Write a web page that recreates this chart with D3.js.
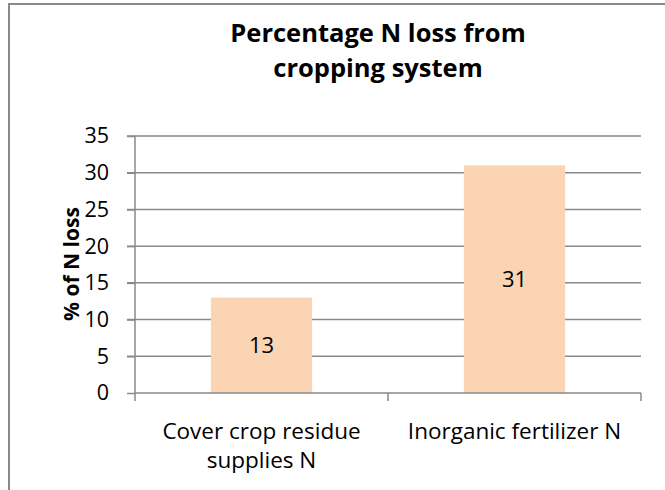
<!DOCTYPE html>
<html><head><meta charset="utf-8">
<script src="https://cdn.jsdelivr.net/npm/d3@7"></script>
<style>html,body{margin:0;padding:0;background:#fff;}svg{display:block;}</style>
</head><body>
<script>
const categories = [["Cover crop residue","supplies N"],["Inorganic fertilizer N"]];
const values = [13, 31];
const yTicks = [0,5,10,15,20,25,30,35];
const titleLines = ["Percentage N loss from","cropping system"];
const yTitle = "% of N loss";

const W = 665, H = 490;
const font = "'Open Sans', Lato, sans-serif";
const svg = d3.select("body").append("svg").attr("width", W).attr("height", H);

svg.append("rect").attr("x", 9).attr("y", 4).attr("width", W + 10).attr("height", H + 10)
  .attr("fill", "#fff").attr("stroke", "#898989").attr("stroke-width", 2);

const pL = 135, pR = 641, pT = 136, pB = 393;
const x = d3.scaleBand().domain(d3.range(values.length)).range([pL, pR]).paddingInner(0.6).paddingOuter(0.3);
const xb = d3.scaleBand().domain(d3.range(values.length)).range([pL, pR]);
const y = d3.scaleLinear().domain([0, 35]).range([pB, pT]);

// gridlines
svg.append("g").selectAll("line").data(yTicks.filter(d => d > 0)).join("line")
  .attr("x1", pL - 8).attr("x2", pR).attr("y1", d => y(d)).attr("y2", d => y(d))
  .attr("stroke", "#8a8a8a").attr("stroke-width", 1.5);

// y axis
const yAxis = svg.append("g").attr("transform", `translate(${pL},0)`)
  .call(d3.axisLeft(y).tickValues(yTicks).tickSize(8).tickPadding(18));
yAxis.select(".domain").attr("stroke", "#8a8a8a").attr("stroke-width", 1.5).attr("d", `M0,${pT}V${pB}`);
yAxis.selectAll(".tick line").attr("stroke", "#8a8a8a").attr("stroke-width", 1.5);
yAxis.selectAll(".tick text").attr("font-family", font).attr("font-size", 21.5).attr("fill", "#000");

// bars
svg.append("g").selectAll("rect").data(values).join("rect")
  .attr("x", (d, i) => x(i)).attr("width", x.bandwidth())
  .attr("y", d => y(d)).attr("height", d => y(0) - y(d))
  .attr("fill", "#FBD4B4");

// x axis
const xAxisG = svg.append("g");
xAxisG.append("line").attr("x1", pL).attr("x2", pR).attr("y1", pB).attr("y2", pB)
  .attr("stroke", "#8a8a8a").attr("stroke-width", 1.5);
const xTickPos = [pL].concat(d3.range(values.length).map(i => xb(i) + xb.bandwidth()));
xAxisG.selectAll("line.t").data(xTickPos).join("line").attr("class", "t")
  .attr("x1", d => d).attr("x2", d => d).attr("y1", pB).attr("y2", pB + 8)
  .attr("stroke", "#8a8a8a").attr("stroke-width", 1.5);

// category labels
categories.forEach((lines, i) => {
  const t = svg.append("text").attr("text-anchor", "middle").attr("font-family", font)
    .attr("font-size", 22.5).attr("fill", "#000");
  lines.forEach((ln, j) => {
    t.append("tspan").attr("x", xb(i) + xb.bandwidth() / 2).attr("y", 439 + j * 29).text(ln);
  });
});

// data labels
svg.append("g").selectAll("text").data(values).join("text")
  .attr("x", (d, i) => x(i) + x.bandwidth() / 2)
  .attr("y", d => (y(d) + y(0)) / 2 + 8)
  .attr("text-anchor", "middle").attr("font-family", font).attr("font-size", 22).attr("fill", "#000")
  .text(d => d);

// title
const tt = svg.append("text").attr("text-anchor", "middle").attr("font-family", font)
  .attr("font-size", 25.5).attr("font-weight", "bold").attr("fill", "#000");
titleLines.forEach((ln, j) => tt.append("tspan").attr("x", 378).attr("y", 42 + j * 35).text(ln));

// y title
svg.append("text").attr("transform", "translate(79,264) rotate(-90)")
  .attr("text-anchor", "middle").attr("font-family", font).attr("font-size", 21)
  .attr("font-weight", "bold").attr("fill", "#000").text(yTitle);
</script>
</body></html>
